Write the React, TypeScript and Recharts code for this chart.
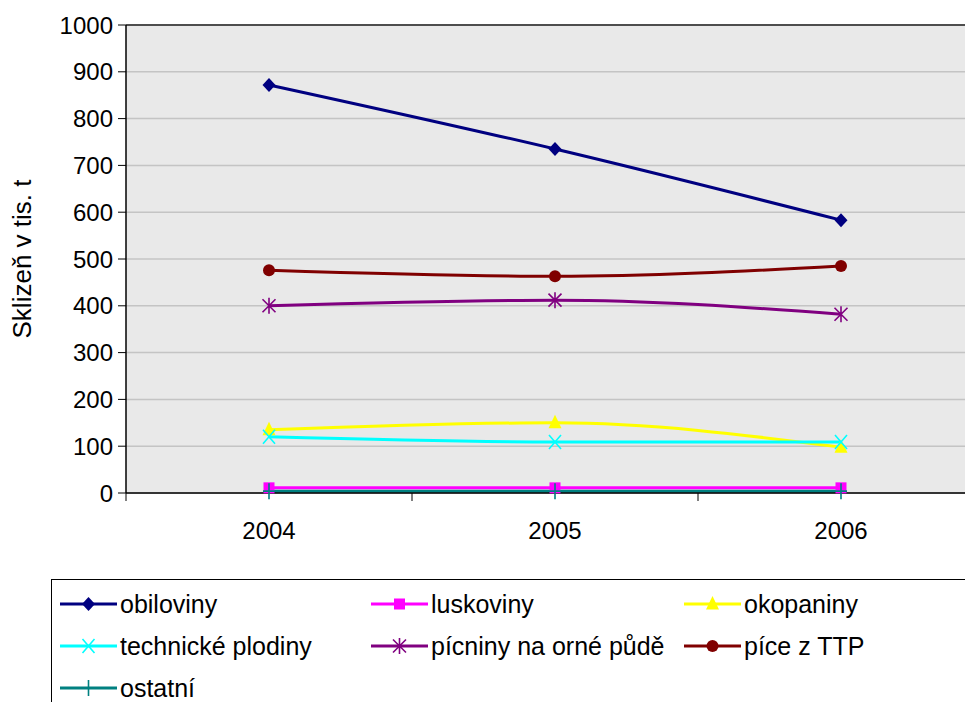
import React from "react";
import { LineChart, Line, XAxis, YAxis, CartesianGrid, ReferenceLine } from "recharts";

const years = [2004, 2005, 2006];
const obiloviny = [872, 735, 583];
const luskoviny = [11, 11, 11];
const okopaniny = [135, 150, 98];
const technicke = [120, 109, 109];
const picniny = [400, 412, 382];
const piceTTP = [476, 463, 485];
const ostatni = [4, 4, 4];
const yTicks = [0, 100, 200, 300, 400, 500, 600, 700, 800, 900, 1000];
const xTicks = [2003.5, 2004, 2004.5, 2005, 2005.5, 2006, 2006.5];

const series = [
  { key: "obiloviny", name: "obiloviny", values: obiloviny, color: "#000080", marker: "diamond" },
  { key: "luskoviny", name: "luskoviny", values: luskoviny, color: "#FF00FF", marker: "square" },
  { key: "okopaniny", name: "okopaniny", values: okopaniny, color: "#FFFF00", marker: "triangle" },
  { key: "technicke", name: "technické plodiny", values: technicke, color: "#00FFFF", marker: "x" },
  { key: "picniny", name: "pícniny na orné půdě", values: picniny, color: "#800080", marker: "star" },
  { key: "piceTTP", name: "píce z TTP", values: piceTTP, color: "#800000", marker: "circle" },
  { key: "ostatni", name: "ostatní", values: ostatni, color: "#008080", marker: "plus" },
];

const data = years.map((year, i) => {
  const row: any = { year };
  series.forEach((s) => (row[s.key] = s.values[i]));
  return row;
});

const FONT = "'Liberation Sans', Arial, sans-serif";

function Marker({ type, cx, cy, color }: { type: string; cx: number; cy: number; color: string }) {
  switch (type) {
    case "diamond":
      return <path d={`M${cx},${cy - 7}L${cx + 6.5},${cy}L${cx},${cy + 7}L${cx - 6.5},${cy}Z`} fill={color} />;
    case "square":
      return <rect x={cx - 5.5} y={cy - 5.5} width={11} height={11} fill={color} />;
    case "triangle":
      return <path d={`M${cx},${cy - 8}L${cx + 6.5},${cy + 5.5}L${cx - 6.5},${cy + 5.5}Z`} fill={color} />;
    case "x":
      return (
        <path d={`M${cx - 6},${cy - 7}L${cx + 6},${cy + 7}M${cx + 6},${cy - 7}L${cx - 6},${cy + 7}`} stroke={color} strokeWidth={1.6} fill="none" />
      );
    case "star":
      return (
        <path
          d={`M${cx - 6.5},${cy - 6.5}L${cx + 6.5},${cy + 6.5}M${cx + 6.5},${cy - 6.5}L${cx - 6.5},${cy + 6.5}M${cx},${cy - 8}L${cx},${cy + 8}`}
          stroke={color}
          strokeWidth={1.6}
          fill="none"
        />
      );
    case "circle":
      return <circle cx={cx} cy={cy} r={6} fill={color} />;
    case "plus":
      return <path d={`M${cx - 6},${cy}L${cx + 6},${cy}M${cx},${cy - 8}L${cx},${cy + 8}`} stroke={color} strokeWidth={1.6} fill="none" />;
    default:
      return null;
  }
}

const makeDot = (type: string, color: string) => (props: any) => {
  const { cx, cy, index } = props;
  if (cx == null || cy == null) return <g key={index} />;
  return (
    <g key={`${type}-${index}`}>
      <Marker type={type} cx={cx} cy={cy} color={color} />
    </g>
  );
};

const XTick = (props: any) => {
  const { x, y, payload } = props;
  const v = payload.value;
  if (Number.isInteger(v)) {
    return (
      <text x={x} y={y + 46} textAnchor="middle" fontSize={24} fontFamily={FONT} fill="#000">
        {v}
      </text>
    );
  }
  return <line x1={x} x2={x} y1={y} y2={y + 8} stroke="#000" strokeWidth={1} />;
};

export default function App() {
  return (
    <div style={{ position: "relative", width: 965, height: 694, overflow: "hidden", fontFamily: FONT }}>
      <LineChart width={990} height={560} data={data} margin={{ top: 17, right: 14, left: 0, bottom: 35 }}>
        <CartesianGrid vertical={false} fill="#e9e9e9" stroke="#c4c4c4" strokeWidth={1.5} />
        <XAxis
          dataKey="year"
          type="number"
          domain={[2003.5, 2006.5]}
          ticks={xTicks}
          interval={0}
          tickLine={false}
          tickSize={0}
          tickMargin={0}
          height={40}
          axisLine={{ stroke: "#000", strokeWidth: 1.5 }}
          tick={<XTick />}
        />
        <YAxis
          domain={[0, 1000]}
          ticks={yTicks}
          interval={0}
          width={118}
          tickSize={8}
          tickMargin={5}
          axisLine={{ stroke: "#000", strokeWidth: 1.5 }}
          tickLine={{ stroke: "#000" }}
          tick={{ fontSize: 24, fill: "#000", fontFamily: FONT }}
          label={{
            value: "Sklizeň v tis. t",
            angle: -90,
            position: "center",
            dx: -45,
            style: { fontSize: 26, fill: "#000", fontFamily: FONT, textAnchor: "middle" },
          }}
        />
        <ReferenceLine y={1000} stroke="#222" strokeWidth={1.5} />
        {series.map((s) => (
          <Line
            key={s.key}
            dataKey={s.key}
            name={s.name}
            type="monotone"
            stroke={s.color}
            strokeWidth={3}
            dot={makeDot(s.marker, s.color)}
            activeDot={false}
            isAnimationActive={false}
          />
        ))}
      </LineChart>
      <div
        style={{
          position: "absolute",
          left: 43,
          top: 571,
          width: 1000,
          height: 150,
          border: "1px solid #000",
          background: "#fff",
        }}
      >
        {series.map((s, i) => {
          const col = i % 3;
          const row = Math.floor(i / 3);
          const left = [8, 319, 632][col];
          return (
            <div
              key={s.key}
              style={{
                position: "absolute",
                left,
                top: 9 + row * 42,
                height: 30,
                display: "flex",
                alignItems: "center",
                whiteSpace: "nowrap",
              }}
            >
              <svg width={58} height={20} style={{ display: "block" }}>
                <line x1={0} x2={57} y1={10} y2={10} stroke={s.color} strokeWidth={3} />
                <Marker type={s.marker} cx={28.5} cy={10} color={s.color} />
              </svg>
              <span style={{ fontSize: 25, color: "#000", marginLeft: 2, lineHeight: "30px" }}>{s.name}</span>
            </div>
          );
        })}
      </div>
    </div>
  );
}
